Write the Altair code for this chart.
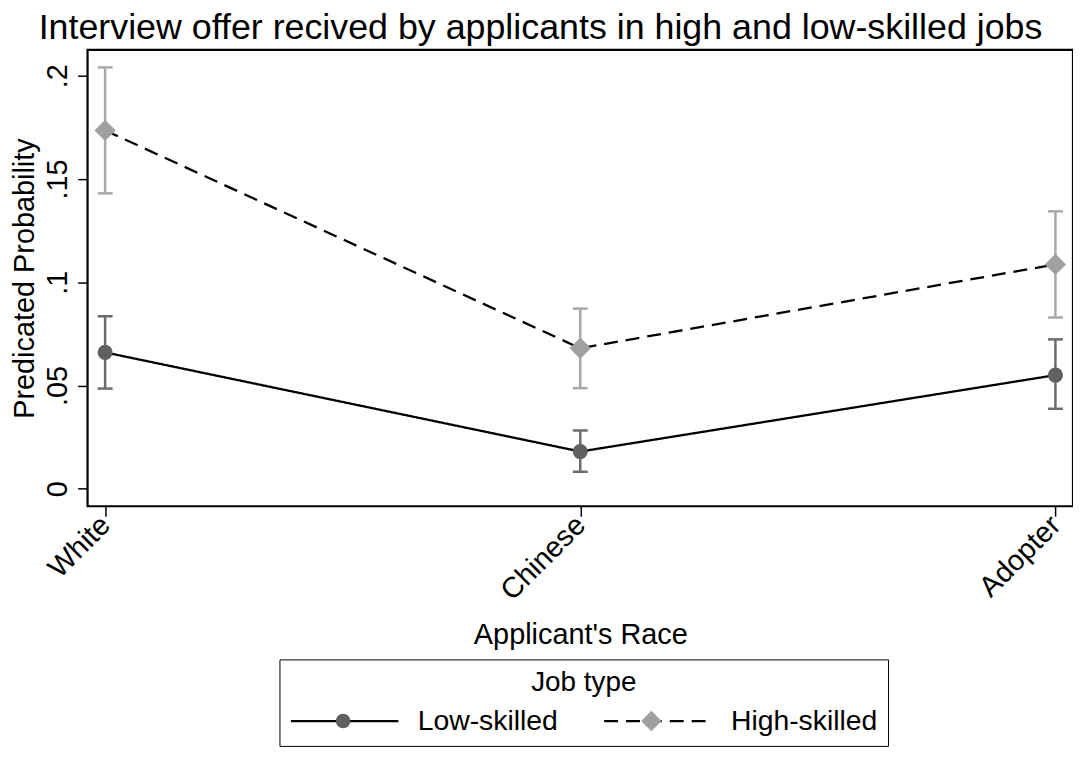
import altair as alt
import pandas as pd

races = ["White", "Chinese", "Adopter"]
series_names = ["Low-skilled", "High-skilled"]
low_pred = [0.066, 0.018, 0.055]
low_lo = [0.0485, 0.0082, 0.0387]
low_hi = [0.0835, 0.0282, 0.0723]
high_pred = [0.1735, 0.068, 0.1086]
high_lo = [0.143, 0.0487, 0.0829]
high_hi = [0.204, 0.0872, 0.1343]
y_ticks = [0, 0.05, 0.1, 0.15, 0.2]

rows = []
for s, pred, lo, hi in [(series_names[0], low_pred, low_lo, low_hi),
                        (series_names[1], high_pred, high_lo, high_hi)]:
    for r, p, l, h in zip(races, pred, lo, hi):
        rows.append({"race": r, "series": s, "job": s, "pred": p, "lo": l, "hi": h})
df = pd.DataFrame(rows)

FONT = "Liberation Sans"

x_axis = alt.Axis(title="Applicant's Race", labelAngle=315, labelAlign="right",
                  labelBaseline="middle", labelFontSize=29, titleFontSize=29,
                  labelPadding=4, titlePadding=15, tickSize=10)
x_enc = alt.X("race:N", sort=races,
              scale=alt.Scale(type="point", padding=0.037, domain=races),
              axis=x_axis)

y_axis = alt.Axis(title="Predicated Probability", values=y_ticks,
                  labelExpr="datum.value == 0 ? '0' : replace(format(datum.value, '~g'), '0.', '.')",
                  labelAngle=270, labelAlign="center", labelBaseline="bottom",
                  labelFontSize=29, titleFontSize=29, labelPadding=5, titlePadding=4,
                  tickSize=10)
y_scale = alt.Scale(domain=[-0.0085, 0.2125], nice=False, zero=False)
TITLE = "Predicated Probability"

dash_scale = alt.Scale(domain=series_names, range=[[1, 0], [14, 8]])
bar_color_scale = alt.Scale(domain=series_names, range=["#6c6c6c", "#a8a8a8"])
fill_scale = alt.Scale(domain=series_names, range=["#606060", "#a0a0a0"])

base = alt.Chart(df)

lines = base.mark_line(color="black", strokeWidth=2.3).encode(
    x=x_enc,
    y=alt.Y("pred:Q", scale=y_scale, axis=y_axis, title=TITLE),
    strokeDash=alt.StrokeDash("series:N", scale=dash_scale, legend=None),
)

rules = base.mark_rule(strokeWidth=2.5).encode(
    x=x_enc,
    y=alt.Y("lo:Q", scale=y_scale, axis=y_axis, title=TITLE),
    y2="hi:Q",
    color=alt.Color("series:N", scale=bar_color_scale, legend=None),
)

caps_lo = base.mark_tick(size=15, thickness=2.5, opacity=1).encode(
    x=x_enc,
    y=alt.Y("lo:Q", scale=y_scale, axis=y_axis, title=TITLE),
    color=alt.Color("series:N", scale=bar_color_scale, legend=None),
)
caps_hi = base.mark_tick(size=15, thickness=2.5, opacity=1).encode(
    x=x_enc,
    y=alt.Y("hi:Q", scale=y_scale, axis=y_axis, title=TITLE),
    color=alt.Color("series:N", scale=bar_color_scale, legend=None),
)

points = base.mark_point(filled=True, opacity=1, strokeWidth=0).encode(
    x=x_enc,
    y=alt.Y("pred:Q", scale=y_scale, axis=y_axis, title=TITLE),
    shape=alt.Shape("series:N", scale=alt.Scale(domain=series_names, range=["circle", "diamond"]), legend=None),
    fill=alt.Fill("series:N", scale=fill_scale, legend=None),
    size=alt.Size("series:N", scale=alt.Scale(domain=series_names, range=[230, 460]), legend=None),
)

# Legend A: long line symbols (solid / dashed) with labels and title
legend_lines = base.mark_line(opacity=0, color="black", strokeWidth=2.2).encode(
    x=x_enc,
    y=alt.Y("pred:Q", scale=y_scale, axis=y_axis, title=TITLE),
    strokeDash=alt.StrokeDash("job:N", title="Job type", scale=dash_scale,
                              legend=alt.Legend(symbolType="stroke", symbolStrokeColor="black",
                                                symbolStrokeWidth=2.2)),
)

# Legend B: markers only, overlaid on the centre of legend A's line symbols.
circle_path = "M0.135,0A0.135,0.135,0,1,1,-0.135,0A0.135,0.135,0,1,1,0.135,0Z"
diamond_path = "M0,-0.19L0.19,0L0,0.19L-0.19,0Z"
legend_b = alt.Legend(title=None, labelExpr="''", strokeColor="transparent",
                      symbolStrokeWidth=0, symbolStrokeColor="transparent",
                      legendY=650, columnPadding=184)
legend_marks = base.mark_point(filled=True, opacity=0, strokeWidth=0).encode(
    x=x_enc,
    y=alt.Y("pred:Q", scale=y_scale, axis=y_axis, title=TITLE),
    shape=alt.Shape("job:N",
                    scale=alt.Scale(domain=series_names, range=[circle_path, diamond_path]),
                    legend=legend_b),
    fill=alt.Fill("job:N", scale=fill_scale, legend=legend_b),
)

chart = alt.layer(lines, rules, caps_lo, caps_hi, points, legend_lines, legend_marks).resolve_scale(
    shape="independent", fill="independent", strokeDash="independent"
).properties(
    width=991,
    height=459,
    padding={"left": 80, "top": 40, "right": 0, "bottom": 240},
    autosize=alt.AutoSizeParams(type="none"),
    title=alt.Title(
        "Interview offer recived by applicants in high and low-skilled jobs",
        fontSize=36, font=FONT, fontWeight="normal", color="black",
        anchor="middle", dx=-40, offset=3,
    ),
).configure_view(
    stroke="black", strokeWidth=2.2
).configure_axis(
    labelFont=FONT, titleFont=FONT, labelColor="black", titleColor="black",
    titleFontWeight="normal", tickColor="black", tickWidth=1.5,
    domain=False, grid=False,
).configure_legend(
    orient="none", legendX=193, legendY=613, direction="horizontal",
    titleAnchor="middle", titleFont=FONT, labelFont=FONT, titleFontSize=28,
    labelFontSize=28.5, titleFontWeight="normal", titleColor="black", labelColor="black",
    strokeColor="black", padding=10, symbolSize=11664, clipHeight=30,
    symbolOpacity=1, columnPadding=45, labelOffset=18, titlePadding=9, labelLimit=400,
)

chart.save("out.html", embed_options={"renderer": "svg", "actions": False})
